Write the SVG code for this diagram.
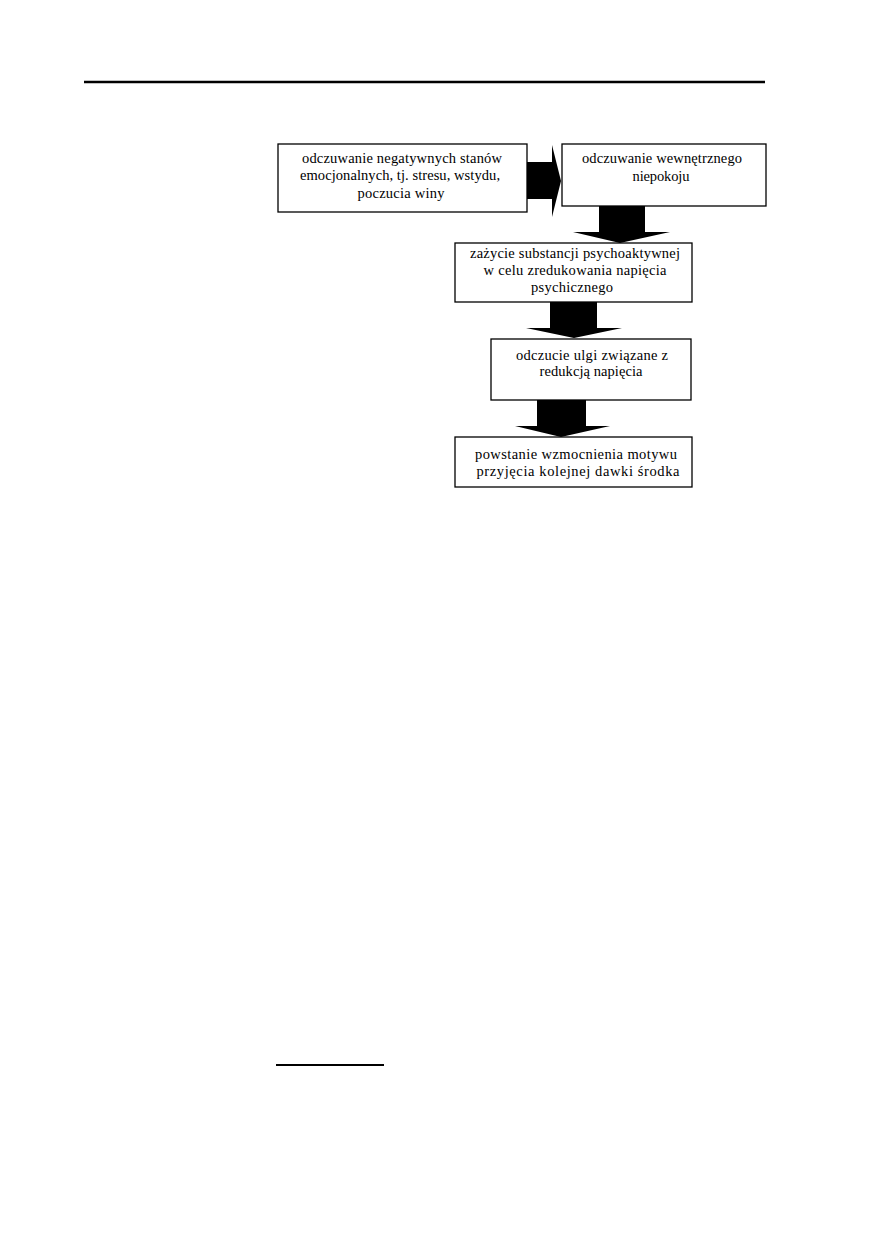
<svg xmlns="http://www.w3.org/2000/svg" width="872" height="1242" viewBox="0 0 872 1242">
<style>
.box{fill:#fff;stroke:#000;stroke-width:1.3}
.t{font-family:"Liberation Serif","Times New Roman",serif;font-size:14.5px;fill:#000;text-anchor:middle}
.arr{fill:#000;stroke:none}
.rule{stroke:#000;fill:none}
</style>
<rect width="872" height="1242" fill="#fff"/>
<line class="rule" x1="84" y1="82" x2="765" y2="82" stroke-width="2.5"/>
<line class="rule" x1="276" y1="1065" x2="384" y2="1065" stroke-width="2"/>
<g id="connectors">
<polygon class="arr" points="527,162 552,162 552,145 561,181 552,217 552,199 527,199"/>
<polygon class="arr" points="599,206 645,206 645,232 670,232 620,243 573,232 599,232"/>
<polygon class="arr" points="550,302 597,302 597,328 622,328 574,338 526,328 550,328"/>
<polygon class="arr" points="537,400 586,400 586,426 610,426 561,437 515,426 537,426"/>
</g>
<g id="n1">
<rect class="box" x="278" y="144" width="249" height="68"/>
<text class="t" x="402" y="163" textLength="200" lengthAdjust="spacing">odczuwanie negatywnych stanów</text>
<text class="t" x="400" y="180" textLength="200" lengthAdjust="spacing">emocjonalnych, tj. stresu, wstydu,</text>
<text class="t" x="401" y="198" textLength="87" lengthAdjust="spacing">poczucia winy</text>
</g>
<g id="n2">
<rect class="box" x="562" y="144" width="204" height="62"/>
<text class="t" x="662" y="163" textLength="160" lengthAdjust="spacing">odczuwanie wewnętrznego</text>
<text class="t" x="661" y="181" textLength="57" lengthAdjust="spacing">niepokoju</text>
</g>
<g id="n3">
<rect class="box" x="455" y="243" width="237" height="59"/>
<text class="t" x="575" y="258" textLength="210" lengthAdjust="spacing">zażycie substancji psychoaktywnej</text>
<text class="t" x="575" y="275" textLength="183" lengthAdjust="spacing">w celu zredukowania napięcia</text>
<text class="t" x="572" y="292" textLength="82" lengthAdjust="spacing">psychicznego</text>
</g>
<g id="n4">
<rect class="box" x="491" y="339" width="200" height="61"/>
<text class="t" x="592" y="360" textLength="152" lengthAdjust="spacing">odczucie ulgi związane  z</text>
<text class="t" x="591" y="376" textLength="103" lengthAdjust="spacing">redukcją napięcia</text>
</g>
<g id="n5">
<rect class="box" x="455" y="437" width="237" height="50"/>
<text class="t" x="576" y="459" textLength="202" lengthAdjust="spacing">powstanie wzmocnienia motywu</text>
<text class="t" x="578" y="476" textLength="203" lengthAdjust="spacing">przyjęcia kolejnej dawki środka</text>
</g>
</svg>
